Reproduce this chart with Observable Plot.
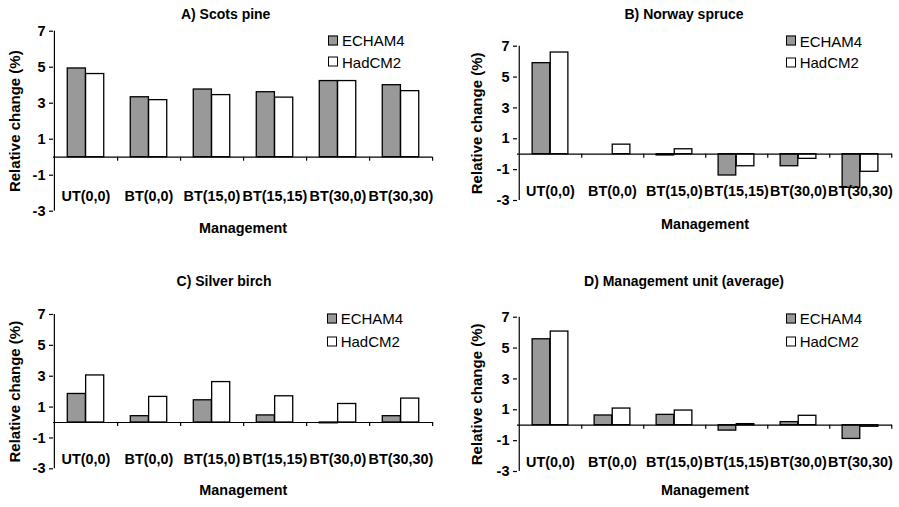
<!DOCTYPE html>
<html>
<head>
<meta charset="utf-8">
<script src="https://cdn.jsdelivr.net/npm/d3@7"></script>
<script src="https://cdn.jsdelivr.net/npm/@observablehq/plot@0.6"></script>
<style>
  html, body { margin: 0; padding: 0; background: #fff; }
  #root { position: relative; width: 899px; height: 507px; background: #fff; font-family: "Liberation Sans", Arial, sans-serif; overflow: hidden; }
  .panel { position: absolute; }
  .title { position: absolute; font-weight: bold; font-size: 14px; transform: translate(-50%, -50%); white-space: nowrap; color: #000; }
  .leg { position: absolute; font-size: 15px; white-space: nowrap; transform: translateY(-50%); display: flex; align-items: center; color: #000; }
  .sw { width: 8px; height: 8px; border: 1.3px solid #000; margin-right: 4px; }
</style>
</head>
<body>
<div id="root"></div>
<script>
// ---------- data ----------
const categories = ["UT(0,0)", "BT(0,0)", "BT(15,0)", "BT(15,15)", "BT(30,0)", "BT(30,30)"];
const seriesNames = ["ECHAM4", "HadCM2"];
const yTicks = [-3, -1, 1, 3, 5, 7];
const panelTitles = ["A) Scots pine", "B) Norway spruce", "C) Silver birch", "D) Management unit (average)"];

const scotsPineECHAM4 = [4.93, 3.33, 3.76, 3.61, 4.23, 4.00];
const scotsPineHadCM2 = [4.62, 3.17, 3.45, 3.31, 4.23, 3.67];
const norwaySpruceECHAM4 = [5.90, 0.00, -0.08, -1.38, -0.78, -2.18];
const norwaySpruceHadCM2 = [6.59, 0.62, 0.32, -0.78, -0.30, -1.14];
const silverBirchECHAM4 = [1.85, 0.41, 1.44, 0.46, -0.05, 0.41];
const silverBirchHadCM2 = [3.05, 1.66, 2.62, 1.70, 1.20, 1.55];
const unitAvgECHAM4 = [5.57, 0.63, 0.67, -0.35, 0.20, -0.89];
const unitAvgHadCM2 = [6.07, 1.08, 0.95, 0.07, 0.61, -0.10];

const seriesData = [
  [scotsPineECHAM4, scotsPineHadCM2],
  [norwaySpruceECHAM4, norwaySpruceHadCM2],
  [silverBirchECHAM4, silverBirchHadCM2],
  [unitAvgECHAM4, unitAvgHadCM2]
];

// ---------- layout ----------
const layouts = [
  {left: 0,   top: 0,   width: 449, height: 250, ml: 53, mr: 17,   mt: 30.7, mb: 39.3, labDy: -10.7, mgDy: 21.3, ylDx: -38.3,
   title: [225.7, 14], leg: [328, 40, 61.7]},
  {left: 449, top: 0,   width: 450, height: 250, ml: 68, mr: 7,    mt: 45.7, mb: 50,   labDy: -5,    mgDy: 28,   ylDx: -40.5,
   title: [684, 14], leg: [785.7, 40.7, 62.3]},
  {left: 0,   top: 255, width: 449, height: 252, ml: 53, mr: 16.3, mt: 59,   mb: 38.7, labDy: -5,    mgDy: 25.7, ylDx: -38,
   title: [224, 281], leg: [326.7, 318.3, 341]},
  {left: 449, top: 255, width: 450, height: 252, ml: 68, mr: 7,    mt: 61.7, mb: 36,   labDy: -4.3,  mgDy: 23,   ylDx: -40,
   title: [684, 281], leg: [785.7, 318.3, 341]}
];

const fills = {"ECHAM4": "#999999", "HadCM2": "#ffffff"};
const root = document.getElementById("root");
const font = "Liberation Sans, Arial, sans-serif";

layouts.forEach((L, i) => {
  const [e, h] = seriesData[i];
  const rows = categories.flatMap((c, j) => [
    {cat: c, series: "ECHAM4", value: e[j]},
    {cat: c, series: "HadCM2", value: h[j]}
  ]);
  const bw = (L.width - L.ml - L.mr) / categories.length;
  const barW = bw * 0.29;
  const half = bw / 2;

  const svg = Plot.plot({
    width: L.width,
    height: L.height,
    marginLeft: L.ml, marginRight: L.mr, marginTop: L.mt, marginBottom: L.mb,
    style: {fontFamily: font, background: "transparent", overflow: "visible"},
    x: {type: "band", domain: categories, padding: 0, axis: null},
    y: {domain: [-3, 7], axis: null},
    marks: [
      Plot.barY(rows.filter(d => d.series === "ECHAM4"), {
        x: "cat", y: "value", fill: fills.ECHAM4, stroke: "#000", strokeWidth: 1.3,
        insetLeft: half - barW, insetRight: half
      }),
      Plot.barY(rows.filter(d => d.series === "HadCM2"), {
        x: "cat", y: "value", fill: fills.HadCM2, stroke: "#000", strokeWidth: 1.3,
        insetLeft: half, insetRight: half - barW
      }),
      Plot.ruleY([0], {stroke: "#000", strokeWidth: 1.2}),
      Plot.ruleX(categories, {x: d => d, y1: 0, y2: 0, insetBottom: -4, dx: half, stroke: "#000", strokeWidth: 1.2}),
      Plot.ruleX([categories[0]], {x: d => d, y1: -3, y2: 7, dx: -half, stroke: "#000", strokeWidth: 1.2}),
      Plot.axisY({ticks: yTicks, tickSize: 4, tickPadding: 4, tickFormat: d => d < 0 ? "-" + Math.abs(d) : String(d),
        fontSize: 14.5, fontWeight: "bold", fill: "#000", label: null, strokeWidth: 1.2}),
      Plot.text(categories, {x: d => d, frameAnchor: "bottom", dy: L.labDy, fontSize: 14.4, fontWeight: "bold", fill: "#000"}),
      Plot.text(["Management"], {frameAnchor: "bottom", dy: L.mgDy, fontSize: 14.4, fontWeight: "bold", fill: "#000"}),
      Plot.text(["Relative change (%)"], {frameAnchor: "left", textAnchor: "middle", dx: L.ylDx, rotate: -90, fontSize: 15, fontWeight: "bold", fill: "#000"})
    ]
  });
  const wrap = document.createElement("div");
  wrap.className = "panel";
  wrap.style.left = L.left + "px";
  wrap.style.top = L.top + "px";
  wrap.appendChild(svg);
  root.appendChild(wrap);

  const t = document.createElement("div");
  t.className = "title";
  t.textContent = panelTitles[i];
  t.style.left = L.title[0] + "px";
  t.style.top = L.title[1] + "px";
  root.appendChild(t);

  seriesNames.forEach((s, k) => {
    const lg = document.createElement("div");
    lg.className = "leg";
    lg.style.left = L.leg[0] + "px";
    lg.style.top = L.leg[1 + k] + "px";
    const sw = document.createElement("div");
    sw.className = "sw";
    sw.style.background = fills[s];
    const tx = document.createElement("span");
    tx.textContent = s;
    lg.appendChild(sw);
    lg.appendChild(tx);
    root.appendChild(lg);
  });
});
</script>
</body>
</html>
